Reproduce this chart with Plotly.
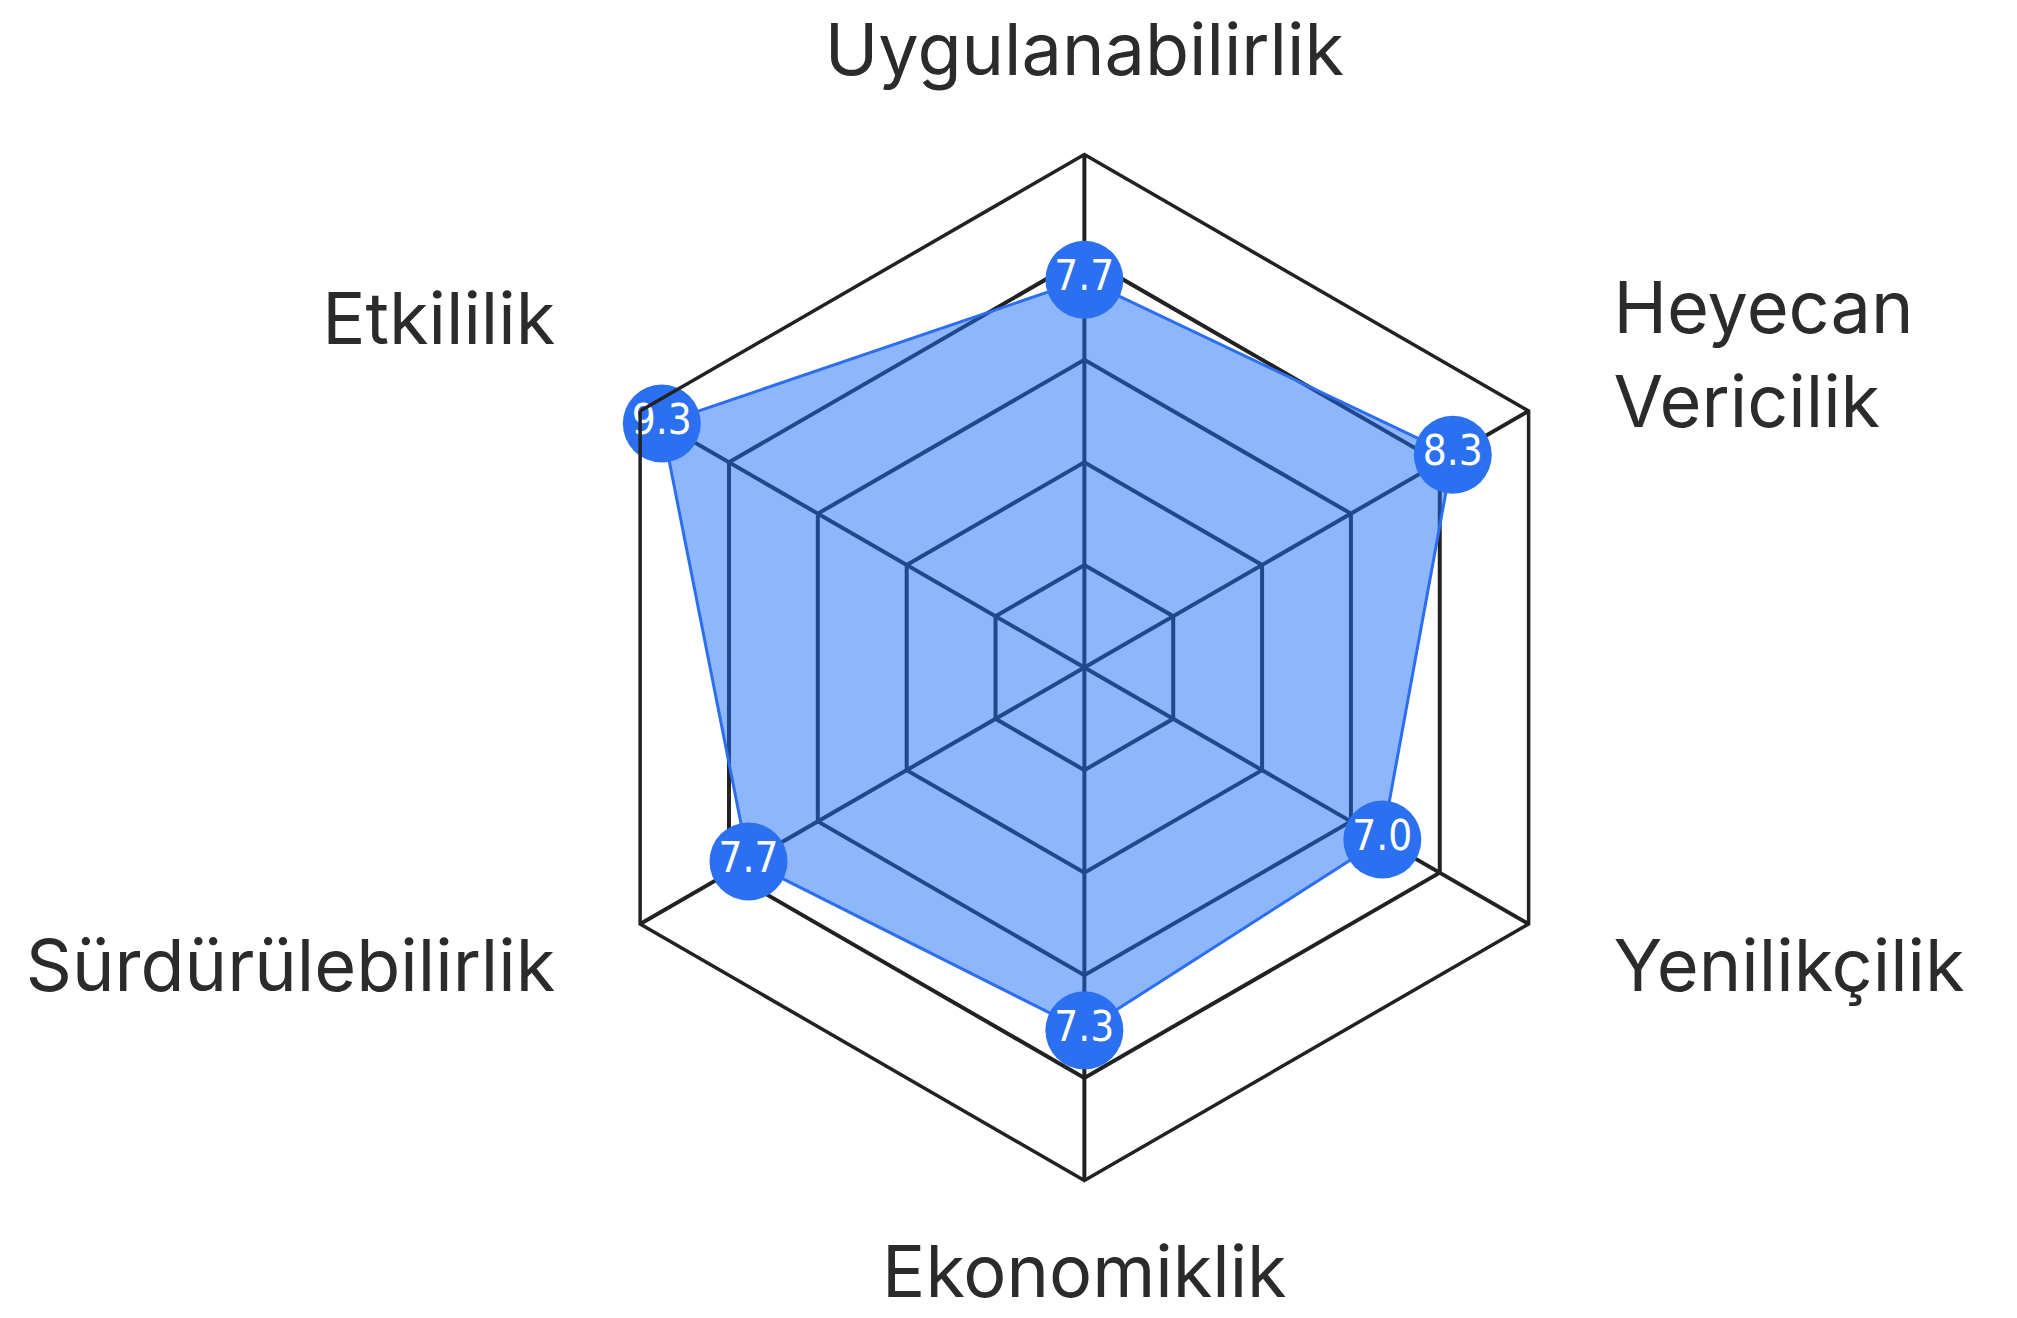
import plotly.graph_objects as go

categories = ["Uygulanabilirlik", "Heyecan Vericilik", "Yenilikçilik",
              "Ekonomiklik", "Sürdürülebilirlik", "Etkililik"]
category_labels = ["Uygulanabilirlik", "Heyecan<br>Vericilik", "Yenilikçilik",
                   "Ekonomiklik", "Sürdürülebilirlik", "Etkililik"]
values = [7.7, 8.3, 7.0, 7.3, 7.7, 9.3]
value_labels = ["7.7", "8.3", "7.0", "7.3", "7.7", "9.3"]

# layout constants
R_MIN, R_MAX = 1.5, 9.7
LABEL_R = 0.94
label_positions = ["middle center", "middle right", "middle right",
                   "middle center", "middle left", "top left"]

theta_closed = categories + [categories[0]]
r_closed = values + [values[0]]

fig = go.Figure()
# filled area
fig.add_trace(go.Scatterpolar(
    r=r_closed, theta=theta_closed, mode="lines",
    fill="toself", fillcolor="rgba(30,110,245,0.5)",
    line=dict(color="#2b6ef2", width=3),
    hoverinfo="skip",
))
# value markers
fig.add_trace(go.Scatterpolar(
    r=values, theta=categories, mode="markers+text",
    marker=dict(size=78, color="#2a70f0", opacity=1, line=dict(width=0)),
    text=value_labels, textposition="middle center",
    textfont=dict(family="DejaVu Sans Condensed, Liberation Sans Narrow, Roboto",
                  size=42, color="white"),
    hoverinfo="skip", cliponaxis=False,
))
# category labels (on an invisible, larger polar frame sharing the same centre)
fig.add_trace(go.Scatterpolar(
    r=[LABEL_R] * len(categories), theta=categories, mode="text",
    text=category_labels, textposition=label_positions,
    textfont=dict(family="Inter", size=72, color="#2b2b2b"),
    hoverinfo="skip", cliponaxis=False, subplot="polar2",
))

cx, cy = 0.53365, 0.4996
fig.update_layout(
    width=2017, height=1318,
    margin=dict(l=0, r=0, t=0, b=0),
    paper_bgcolor="white", plot_bgcolor="white",
    showlegend=False,
    polar=dict(
        domain=dict(x=[0.2793, 0.7880], y=[0.1104, 0.8888]),
        gridshape="linear",
        bgcolor="white",
        radialaxis=dict(range=[R_MIN, R_MAX], tick0=R_MIN, dtick=(R_MAX - R_MIN) / 5,
                        showticklabels=False, ticks="",
                        showline=False, gridcolor="#222222", gridwidth=3.5),
        angularaxis=dict(direction="clockwise", rotation=90,
                         showline=True, linecolor="#222222", linewidth=3.5,
                         gridcolor="#222222", gridwidth=3.5,
                         showticklabels=False, ticks=""),
    ),
    polar2=dict(
        domain=dict(x=[cx - 650 / 2017, cx + 650 / 2017], y=[cy - 650 / 1318, cy + 650 / 1318]),
        gridshape="linear",
        bgcolor="rgba(0,0,0,0)",
        radialaxis=dict(range=[0, 1], visible=False),
        angularaxis=dict(direction="clockwise", rotation=90, visible=False,
                         categoryarray=categories, categoryorder="array"),
    ),
)

fig.write_html("out.html")
